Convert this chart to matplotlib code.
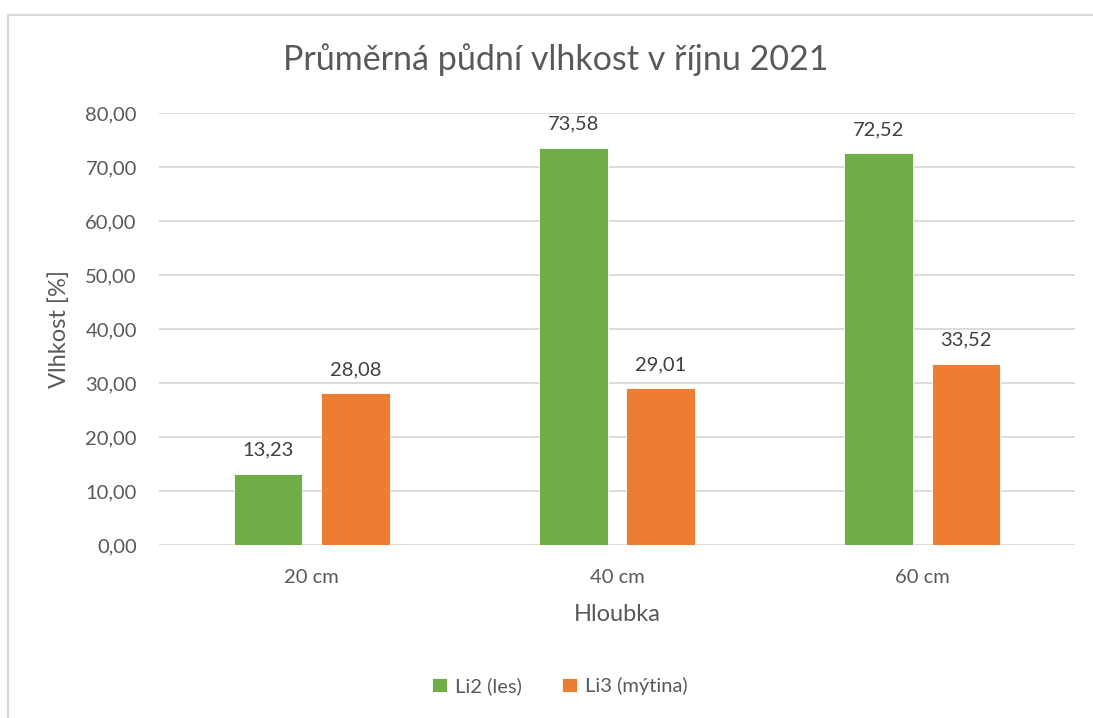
import numpy as np
import matplotlib.pyplot as plt
from matplotlib.patches import Rectangle

plt.rcParams['font.family'] = ['Lato', 'DejaVu Sans']

hloubka = ["20 cm", "40 cm", "60 cm"]
li2_les = [13.23, 73.58, 72.52]
li3_mytina = [28.08, 29.01, 33.52]
serie = ["Li2 (les)", "Li3 (mýtina)"]

zelena = "#70AD47"
oranzova = "#ED7D31"
seda = "#595959"

W, H = 1093, 718
fig = plt.figure(figsize=(W / 100, H / 100), dpi=100)
ax = fig.add_axes([159 / W, 1 - 545 / H, (1075 - 159) / W, (545 - 113) / H])

# ramecek grafu (jen horni a leva hrana jsou videt)
fig.patches.append(Rectangle((8 / W, -0.1), 1.2, 1 - 15 / H + 0.1,
                             transform=fig.transFigure, fill=False,
                             edgecolor="#D9D9D9", lw=1.5))

x = np.arange(len(hloubka))
sirka = 0.224
posun = 0.143
b1 = ax.bar(x - posun, li2_les, sirka, color=zelena, label=serie[0],
            edgecolor="white", lw=0.6, zorder=3)
b2 = ax.bar(x + posun, li3_mytina, sirka, color=oranzova, label=serie[1],
            edgecolor="white", lw=0.6, zorder=3)

for bars in (b1, b2):
    for b in bars:
        v = b.get_height()
        ax.annotate(("%.2f" % v).replace(".", ","),
                    (b.get_x() + b.get_width() / 2, v),
                    xytext=(0, 11), textcoords="offset points",
                    ha="center", va="bottom", fontsize=14.5, color="#404040")

ax.set_xlim(-0.5, 2.5)
ax.set_ylim(0, 80)
ax.set_yticks(np.arange(0, 81, 10))
ax.set_yticklabels([("%.2f" % t).replace(".", ",") for t in np.arange(0, 81, 10)])
ax.set_xticks(x)
ax.set_xticklabels(hloubka)
ax.tick_params(length=0, labelsize=14.5, labelcolor=seda)
ax.tick_params(axis="y", pad=16)
ax.tick_params(axis="x", pad=17)

ax.grid(axis="y", color="#D9D9D9", lw=1.3, zorder=0)
ax.set_axisbelow(True)
for s in ax.spines.values():
    s.set_visible(False)

ax.set_ylabel("Vlhkost [%]", fontsize=17, color=seda, labelpad=11)
ax.set_xlabel("Hloubka", fontsize=17, color=seda, labelpad=13)
fig.text(556 / W, 1 - 60 / H, "Průměrná půdní vlhkost v říjnu 2021",
         ha="center", va="center", fontsize=24.5, color=seda)

fig.legend(loc="center", bbox_to_anchor=(560 / W, 1 - 686 / H), ncol=2,
           frameon=False, fontsize=14.5, labelcolor=seda, handlelength=0.75,
           handleheight=0.75, handletextpad=0.4, columnspacing=2.0)

fig.savefig("out.png", dpi=100)
